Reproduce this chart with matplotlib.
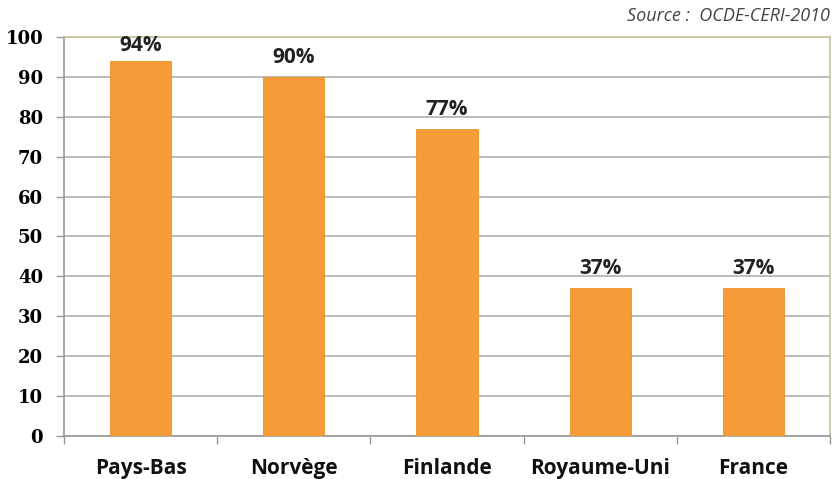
import matplotlib.pyplot as plt
import numpy as np

pays = ['Pays-Bas', 'Norvège', 'Finlande', 'Royaume-Uni', 'France']
valeurs = [94, 90, 77, 37, 37]
etiquettes = ['94%', '90%', '77%', '37%', '37%']

fig = plt.figure(figsize=(8.38, 4.79), dpi=100)
ax = fig.add_axes([0.0764, 0.0898, 0.9141, 0.833])

x = np.arange(len(pays))
ax.bar(x, valeurs, width=0.4, color='#F59B38', edgecolor='#EE8F2A', linewidth=0.6, zorder=3)

# labels kept inside the plot area, like Excel does for the tallest bar
for xi, v, t in zip(x, valeurs, etiquettes):
    ax.text(xi, min(v + 2.3, 95.3), t, ha='center', va='bottom', fontsize=15, fontweight='bold',
            family='Open Sans', color='#222222')

ax.set_xlim(-0.5, len(pays) - 0.5)
ax.set_ylim(0, 100)
ax.set_yticks(range(0, 101, 10))
ax.yaxis.grid(True, color='#B0B0B0', linewidth=1.2, zorder=0)
ax.set_axisbelow(True)

ax.set_xticks(x)
ax.set_xticklabels(pays, fontsize=15, fontweight='bold', family='Open Sans', color='#111111')
ax.set_xticks(np.arange(-0.5, len(pays)), minor=True)
ax.tick_params(axis='x', which='major', length=0, pad=16)
ax.tick_params(axis='x', which='minor', length=6, color='#999999', width=1)
ax.tick_params(axis='y', length=6, color='#999999', width=1, pad=9)
for lab in ax.get_yticklabels():
    lab.set_fontweight('bold')
    lab.set_fontsize(13)
    lab.set_family('DejaVu Serif')

ax.spines['left'].set_color('#999999')
ax.spines['bottom'].set_color('#999999')
ax.spines['top'].set_color('#C8C29A')
ax.spines['right'].set_color('#C8C29A')
for s in ax.spines.values():
    s.set_linewidth(1.2)

fig.text(0.99, 0.985, 'Source :  OCDE-CERI-2010', ha='right', va='top', fontsize=13,
         style='italic', family='Open Sans', color='#444444')

fig.savefig('out.png', dpi=100)
